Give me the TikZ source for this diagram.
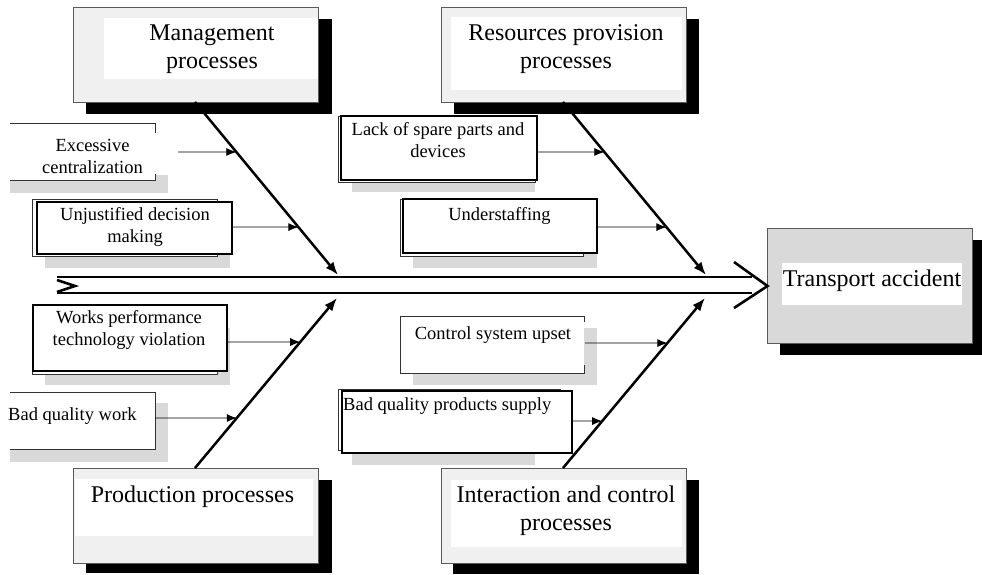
\documentclass[tikz,border=0pt]{standalone}
\usepackage{fontspec}
\setmainfont{Liberation Serif}
\usetikzlibrary{arrows.meta}

\begin{document}
\begin{tikzpicture}[x=1pt,y=-1pt,
  bigtxt/.style={font=\fontsize{24}{28}\selectfont,align=center,inner sep=0pt,anchor=north},
  smalltxt/.style={font=\fontsize{18.5}{22}\selectfont,align=center,inner sep=0pt,anchor=north},
  catbox/.style={draw=black!65,line width=0.8pt,fill=black!6},
  blackshadow/.style={fill=black},
  grayshadow/.style={fill=black!15},
  thinframe/.style={draw=black!80,line width=0.7pt},
  thickframe/.style={draw=black,line width=1.6pt},
  spine/.style={line width=2.6pt},
  bone/.style={line width=2.5pt,-{Latex[length=13pt,width=10pt]}},
  twig/.style={line width=0.8pt,-{Latex[length=10pt,width=8pt]}}]
\useasboundingbox (0,0) rectangle (982,574);
% category boxes
\fill[blackshadow] (86,19) rectangle (332,114);
\path[catbox] (73,7) rectangle (318,102);
\fill[white] (104,18) rectangle (317.5,79);
\node[bigtxt] (mgmt) at (212,20.9) {\strut Management\\processes};
\fill[blackshadow] (454,19) rectangle (699,114);
\path[catbox] (441,7) rectangle (686,102);
\fill[white] (451,17) rectangle (682,90);
\node[bigtxt] (res) at (566,20.9) {\strut Resources provision\\processes};
\fill[blackshadow] (86,480) rectangle (332,573);
\path[catbox] (73,468) rectangle (318,563);
\fill[white] (75,479) rectangle (313,536);
\node[bigtxt] (prod) at (192.5,482.4) {\strut Production processes};
\fill[blackshadow] (453,480) rectangle (699,574);
\path[catbox] (441,468) rectangle (686,563);
\fill[white] (451,480) rectangle (682,547);
\node[bigtxt] (int) at (566,482.4) {\strut Interaction and control\\processes};
% effect
\fill[blackshadow] (780,240) rectangle (982,355);
\path[catbox,fill=black!15] (767,228) rectangle (972,343);
\fill[white] (782,263) rectangle (962,305);
\node[bigtxt] (acc) at (872,266.4) {\strut Transport accident};
\coordinate (tip) at (767.5,286);
% causes
\fill[grayshadow] (10,136) rectangle (168,193);
\fill[white] (10,123) rectangle (155,180); \fill[white] (155,123) rectangle (178,175);
\draw[thinframe] (10,123) -- (155,123) -- (155,133); \draw[thinframe] (155,174) -- (155,180) -- (10,180);
\node[smalltxt] (exc) at (92.5,136.3) {\strut Excessive\\centralization};
\coordinate (exc-r) at (178,152);
\fill[grayshadow] (45,212) rectangle (230,268);
\draw[thinframe,fill=white] (32,199) rectangle (217,256);
\draw[thickframe,fill=white] (37,202) rectangle (232,254);
\node[smalltxt] (unj) at (135,204.6) {\strut Unjustified decision\\making};
\coordinate (unj-r) at (232,227);
\fill[grayshadow] (352,130) rectangle (535,192);
\draw[thinframe,fill=white] (338,116) rectangle (535,182);
\draw[thickframe,fill=white] (341,116) rectangle (537,180);
\node[smalltxt] (lack) at (438,119.6) {\strut Lack of spare parts and\\devices};
\coordinate (lack-r) at (537,152);
\fill[grayshadow] (413,212) rectangle (597,268);
\draw[thinframe,fill=white] (400,199) rectangle (583,256);
\draw[thickframe,fill=white] (403,199) rectangle (597,253);
\node[smalltxt] (und) at (499.5,204.6) {\strut Understaffing};
\coordinate (und-r) at (597,227);
\fill[grayshadow] (45,328) rectangle (230,385);
\draw[thinframe,fill=white] (32,305) rectangle (217,374);
\draw[thickframe,fill=white] (33,305) rectangle (227,371);
\node[smalltxt] (wrk) at (129,307.6) {\strut Works performance\\technology violation};
\coordinate (wrk-r) at (227,342);
\fill[grayshadow] (10,403) rectangle (168,462);
\fill[white] (10,392) rectangle (155,449);
\draw[thinframe] (10,392) -- (155,392) -- (155,449) -- (10,449);
\node[smalltxt,anchor=north west] (bqw) at (8,404.6) {\strut Bad quality work};
\coordinate (bqw-r) at (155,418);
\fill[grayshadow] (413,328) rectangle (597,385);
\fill[white] (400,316) rectangle (584,373);
\draw[thinframe] (584,322) -- (584,316) -- (400,316) -- (400,373) -- (584,373) -- (584,365);
\node[smalltxt] (ctl) at (493,323.6) {\strut Control system upset};
\coordinate (ctl-r) at (585,343);
\fill[grayshadow] (352,400) rectangle (535,465);
\draw[thinframe,fill=white] (338,389) rectangle (560,450);
\draw[thickframe,fill=white] (342,391) rectangle (572,453);
\node[smalltxt,anchor=north west] (bqp) at (343,394.6) {\strut Bad quality products supply};
\coordinate (bqp-r) at (572,421);
% spine
\draw[spine] (57,277) -- (752,277);
\draw[spine] (57,293) -- (752,293);
\draw[spine] (57,280) -- (75,286) -- (57,292);
\draw[spine] (734,262) -- (tip) -- (734,308);
% bones
\coordinate (mgmt-s) at (195,102); \coordinate (mgmt-e) at (338,275);
\coordinate (res-s) at (563,102); \coordinate (res-e) at (706,275);
\coordinate (prod-s) at (195,468); \coordinate (prod-e) at (337,298);
\coordinate (int-s) at (563,468); \coordinate (int-e) at (705,298);
\path (mgmt-s) -- (mgmt-e) coordinate[pos=0.289] (mgmt-1) coordinate[pos=0.723] (mgmt-2);
\path (res-s) -- (res-e) coordinate[pos=0.289] (res-1) coordinate[pos=0.723] (res-2);
\path (prod-s) -- (prod-e) coordinate[pos=0.294] (prod-1) coordinate[pos=0.741] (prod-2);
\path (int-s) -- (int-e) coordinate[pos=0.276] (int-1) coordinate[pos=0.735] (int-2);
\draw[bone] (mgmt-s) -- (mgmt-e);
\draw[bone] (res-s) -- (res-e);
\draw[bone] (prod-s) -- (prod-e);
\draw[bone] (int-s) -- (int-e);
% twigs
\draw[twig] (exc-r) -- (mgmt-1);
\draw[twig] (unj-r) -- (mgmt-2);
\draw[twig] (lack-r) -- (res-1);
\draw[twig] (und-r) -- (res-2);
\draw[twig] (wrk-r) -- (prod-2);
\draw[twig] (bqw-r) -- (prod-1);
\draw[twig] (ctl-r) -- (int-2);
\draw[twig] (bqp-r) -- (int-1);
\end{tikzpicture}
\end{document}
